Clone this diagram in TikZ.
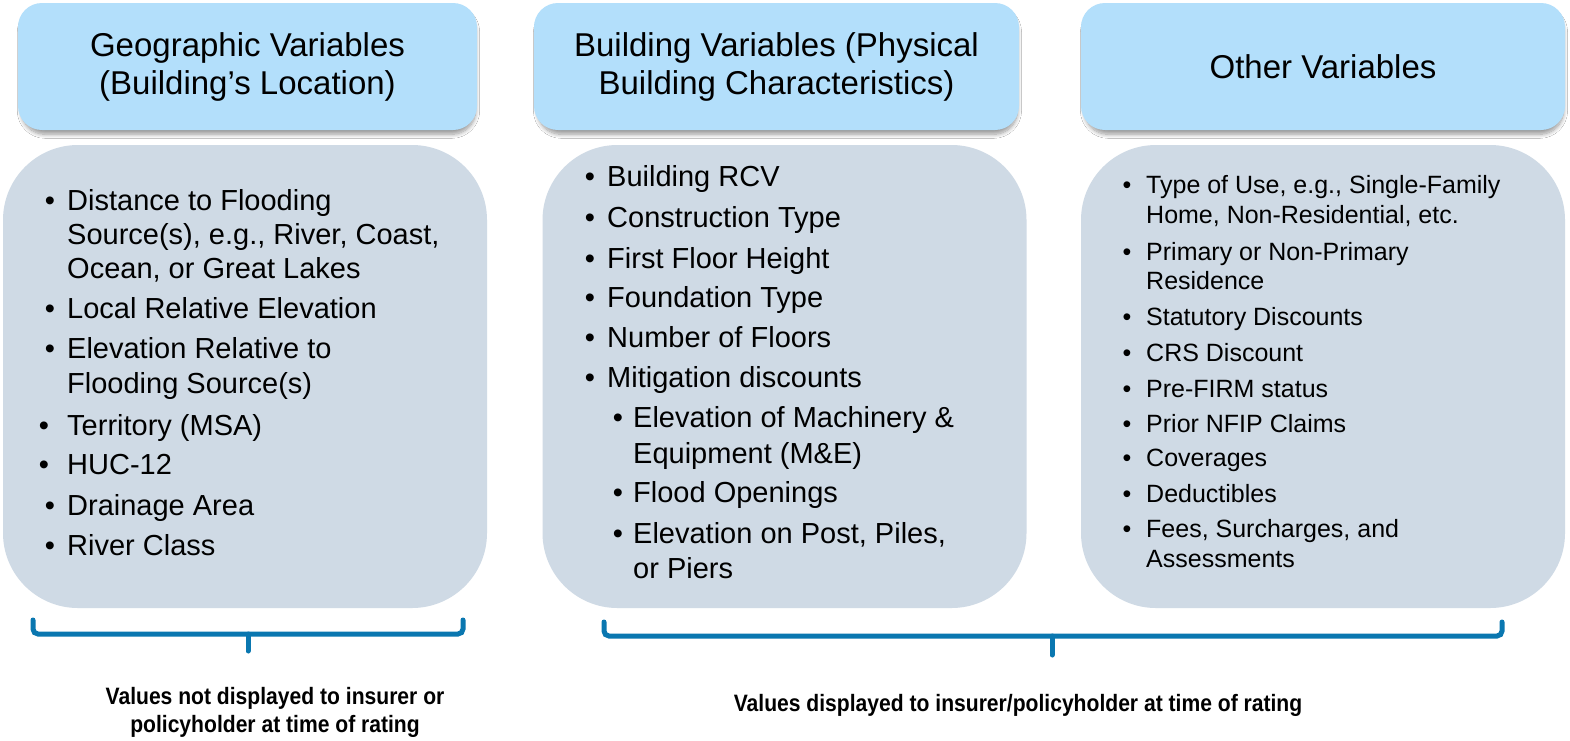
\documentclass[tikz,border=0pt]{standalone}
\usepackage{fontspec}
\setmainfont{Liberation Sans}
\newfontfamily\capfont{Liberation Sans}[FakeStretch=0.89]
\usetikzlibrary{shadows.blur}
\definecolor{hdrblue}{HTML}{B3DFFB}
\definecolor{bodygray}{HTML}{CFDAE5}
\definecolor{braceblue}{HTML}{0A77B0}
\tikzset{
  hdr/.style={rectangle, fill=hdrblue, rounded corners=24pt, inner sep=0pt, align=center,
    font=\fontsize{33}{38}\selectfont,
    blur shadow={shadow xshift=1pt, shadow yshift=-5pt, shadow blur radius=4pt, shadow opacity=40, shadow blur steps=10, shadow scale=0.99}},
  bodybox/.style={rectangle, fill=bodygray, rounded corners=75pt, inner sep=0pt, minimum width=484pt, minimum height=463pt},
  itA/.style={anchor=base west, inner sep=0pt, font=\fontsize{29}{34}\selectfont},
  bulA/.style={anchor=base, inner sep=0pt, font=\fontsize{29}{34}\selectfont},
  itC/.style={anchor=base west, inner sep=0pt, font=\fontsize{25}{30}\selectfont},
  bulC/.style={anchor=base, inner sep=0pt, font=\fontsize{25}{30}\selectfont},
  bracestyle/.style={draw=braceblue, line width=5pt, rounded corners=5pt, line cap=round},
  capt/.style={anchor=base, inner sep=0pt, font=\capfont\bfseries\fontsize{23.7}{28}\selectfont}
}
\begin{document}
\begin{tikzpicture}[x=1pt,y=-1pt]
\useasboundingbox (0,0) rectangle (1570,740);
\fill[white] (0,0) rectangle (1570,740);

% headers
\node[hdr, minimum width=459pt, minimum height=127pt] (h1) at (247.5,66.5) {Geographic Variables\\(Building’s Location)};
\node[hdr, minimum width=485pt, minimum height=127pt] (h2) at (776.5,66.5) {Building Variables (Physical\\Building Characteristics)};
\node[hdr, minimum width=484pt, minimum height=127pt] (h3) at (1323,66.5) {Other Variables};

% bodies
\node[bodybox] (b1) at (245,376.5) {};
\node[bodybox] (b2) at (784.5,376.5) {};
\node[bodybox] (b3) at (1323,376.5) {};

% column 1
\node[bulA] (gb1) at (50,210) {•};
\node[itA] (g1) at (67,210) {Distance to Flooding};
\node[itA] (g2) at (67,244) {Source(s), e.g., River, Coast,};
\node[itA] (g3) at (67,278) {Ocean, or Great Lakes};
\node[bulA] (gb2) at (50,318) {•};
\node[itA] (g4) at (67,318) {Local Relative Elevation};
\node[bulA] (gb3) at (50,358) {•};
\node[itA] (g5) at (67,358) {Elevation Relative to};
\node[itA] (g6) at (67,393) {Flooding Source(s)};
\node[bulA] (gb4) at (44,435) {•};
\node[itA] (g7) at (67,435) {Territory (MSA)};
\node[bulA] (gb5) at (44,474) {•};
\node[itA] (g8) at (67,474) {HUC-12};
\node[bulA] (gb6) at (50,515) {•};
\node[itA] (g9) at (67,515) {Drainage Area};
\node[bulA] (gb7) at (50,555) {•};
\node[itA] (g10) at (67,555) {River Class};

% column 2
\node[bulA] (pb1) at (590,186) {•};
\node[itA] (p1) at (607,186) {Building RCV};
\node[bulA] (pb2) at (590,227) {•};
\node[itA] (p2) at (607,227) {Construction Type};
\node[bulA] (pb3) at (590,268) {•};
\node[itA] (p3) at (607,268) {First Floor Height};
\node[bulA] (pb4) at (590,307) {•};
\node[itA] (p4) at (607,307) {Foundation Type};
\node[bulA] (pb5) at (590,347) {•};
\node[itA] (p5) at (607,347) {Number of Floors};
\node[bulA] (pb6) at (590,387) {•};
\node[itA] (p6) at (607,387) {Mitigation discounts};
\node[bulA] (pb7) at (618,427) {•};
\node[itA] (p7) at (633,427) {Elevation of Machinery \&};
\node[itA] (p8) at (633,463) {Equipment (M\&E)};
\node[bulA] (pb8) at (618,502) {•};
\node[itA] (p9) at (633,502) {Flood Openings};
\node[bulA] (pb9) at (618,543) {•};
\node[itA] (p10) at (633,543) {Elevation on Post, Piles,};
\node[itA] (p11) at (633,578) {or Piers};

% column 3
\node[bulC] (ob1) at (1127,193) {•};
\node[itC] (o1) at (1146,193) {Type of Use, e.g., Single-Family};
\node[itC] (o2) at (1146,223) {Home, Non-Residential, etc.};
\node[bulC] (ob2) at (1127,260) {•};
\node[itC] (o3) at (1146,260) {Primary or Non-Primary};
\node[itC] (o4) at (1146,289) {Residence};
\node[bulC] (ob3) at (1127,325) {•};
\node[itC] (o5) at (1146,325) {Statutory Discounts};
\node[bulC] (ob4) at (1127,361) {•};
\node[itC] (o6) at (1146,361) {CRS Discount};
\node[bulC] (ob5) at (1127,397) {•};
\node[itC] (o7) at (1146,397) {Pre-FIRM status};
\node[bulC] (ob6) at (1127,432) {•};
\node[itC] (o8) at (1146,432) {Prior NFIP Claims};
\node[bulC] (ob7) at (1127,466) {•};
\node[itC] (o9) at (1146,466) {Coverages};
\node[bulC] (ob8) at (1127,502) {•};
\node[itC] (o10) at (1146,502) {Deductibles};
\node[bulC] (ob9) at (1127,537) {•};
\node[itC] (o11) at (1146,537) {Fees, Surcharges, and};
\node[itC] (o12) at (1146,567) {Assessments};

% braces
\coordinate (ba1) at (33,620);
\coordinate (bc1) at (248,634);
\coordinate (bb1) at (463,620);
\coordinate (bt1) at (248,651);
\draw[bracestyle] (ba1) |- (bc1) -| (bb1);
\draw[bracestyle] (bc1) -- (bt1);

\coordinate (ba2) at (604,622);
\coordinate (bc2) at (1052,636);
\coordinate (bb2) at (1502,622);
\coordinate (bt2) at (1052,655);
\draw[bracestyle] (ba2) |- (bc2) -| (bb2);
\draw[bracestyle] (bc2) -- (bt2);

% captions
\node[capt] (c1a) at (275,704) {Values not displayed to insurer or};
\node[capt] (c1b) at (275,732) {policyholder at time of rating};
\node[capt] (c2) at (1018,711) {Values displayed to insurer/policyholder at time of rating};
\end{tikzpicture}
\end{document}
